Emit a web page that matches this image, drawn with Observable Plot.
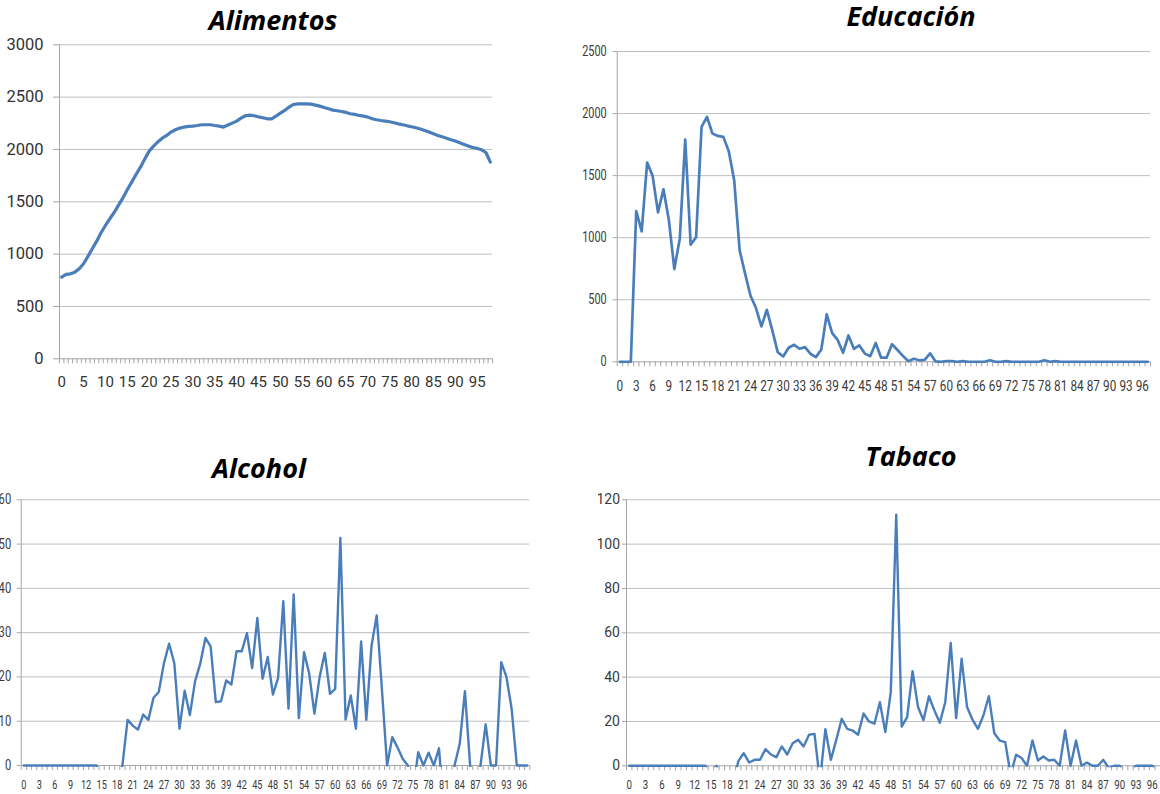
<!DOCTYPE html>
<html>
<head>
<meta charset="utf-8">
<script src="https://cdn.jsdelivr.net/npm/d3@7"></script>
<script src="https://cdn.jsdelivr.net/npm/@observablehq/plot@0.6"></script>
<style>
html, body { margin: 0; padding: 0; background: #fff; }
#page { position: relative; width: 1160px; height: 794px; overflow: hidden; background: #fff; }
.panel { position: absolute; overflow: hidden; }
.title { position: absolute; font-family: "Open Sans", Lato, sans-serif; font-weight: bold; font-style: italic;
         font-size: 27px; line-height: 27px; color: #000; white-space: nowrap; transform: translateX(-50%); }
</style>
</head>
<body>
<div id="page"></div>
<script>
// ---------- DATA ----------
const titles = ["Alimentos", "Educación", "Alcohol", "Tabaco"];

const alimentosAges = Array.from({length: 99}, (_, i) => i);   // 0..98
const edadesOtros = Array.from({length: 98}, (_, i) => i);     // 0..97

const alimentos = [780, 806, 812, 828, 860, 908, 978, 1051, 1124, 1204,
  1274, 1338, 1398, 1468, 1538, 1615, 1688, 1761, 1831, 1908,
  1984, 2032, 2073, 2108, 2134, 2166, 2188, 2204, 2214, 2220,
  2223, 2229, 2236, 2236, 2236, 2229, 2223, 2214, 2233, 2252,
  2271, 2300, 2322, 2328, 2322, 2312, 2303, 2293, 2293, 2319,
  2347, 2373, 2405, 2430, 2436, 2436, 2436, 2433, 2424, 2414,
  2401, 2389, 2376, 2370, 2363, 2354, 2341, 2335, 2325, 2319,
  2309, 2293, 2284, 2277, 2271, 2265, 2255, 2245, 2236, 2226,
  2217, 2207, 2195, 2182, 2166, 2150, 2134, 2121, 2108, 2093,
  2080, 2064, 2048, 2032, 2019, 2010, 1997, 1971, 1879];

const educacion = [0, 0, 0, 1215, 1051, 1605, 1500, 1204, 1390, 1140,
  747, 992, 1790, 943, 1003, 1892, 1973, 1839, 1820, 1812,
  1696, 1462, 898, 710, 532, 433, 285, 419, 253, 78,
  43, 113, 137, 105, 118, 65, 38, 97, 382, 231,
  177, 73, 212, 105, 132, 66, 45, 152, 33, 33,
  142, 95, 48, 5, 25, 12, 15, 68, 3, 0,
  5, 5, 0, 5, 0, 0, 0, 0, 13, 0,
  0, 5, 0, 0, 0, 0, 0, 0, 13, 0,
  5, 0, 0, 0, 0, 0, 0, 0, 0, 0,
  0, 0, 0, 0, 0, 0, 0, 0];

const alcohol = [0, 0, 0, 0, 0, 0, 0, 0, 0, 0,
  0, 0, 0, 0, 0, -3, -3, -3, -3, 0,
  10.3, 9.0, 8.1, 11.5, 10.3, 15.3, 16.6, 23.1, 27.5, 23.1,
  8.3, 16.9, 11.4, 19.0, 23.0, 28.8, 26.9, 14.3, 14.5, 19.2,
  18.3, 25.8, 25.8, 29.9, 22.0, 33.3, 19.6, 24.5, 16.0, 19.8,
  37.1, 12.8, 38.6, 10.7, 25.6, 20.7, 11.7, 20.0, 25.4, 16.2,
  17.3, 51.4, 10.4, 15.8, 8.3, 28.0, 10.3, 27.0, 33.9, 17.3,
  0, 6.4, 4.1, 1.5, 0, -6, 3.0, 0, 2.9, 0,
  3.9, -11, -5, 0, 4.9, 16.8, 0, -5, 0, 9.3,
  0, 0, 23.3, 20.0, 12.8, 0, 0, 0];

const tabaco = [0, 0, 0, 0, 0, 0, 0, 0, 0, 0,
  0, 0, 0, 0, 0, -4, 0, -4, -4, -10,
  2, 5.7, 1.5, 2.7, 2.7, 7.5, 5.1, 3.9, 8.7, 5.1,
  10.2, 11.7, 8.7, 14.0, 14.4, -7, 16.5, 2.7, 11.7, 21.2,
  16.7, 15.9, 14.0, 23.6, 20.0, 19.0, 28.7, 15.2, 33.2, 113.3,
  17.7, 22.0, 42.7, 26.5, 20.5, 31.4, 25.0, 19.4, 28.7, 55.4,
  21.5, 48.3, 26.5, 20.8, 16.7, 22.7, 31.4, 14.7, 11.4, 10.7,
  -4, 5.0, 3.5, 0, 11.4, 2.4, 4.2, 2.4, 2.7, 0,
  15.9, 0, 11.4, 0, 1.5, 0, 0, 2.7, -1, 0,
  0, -3, -3, 0, 0, 0, 0, -3];

const yTicksAlimentos = [0, 500, 1000, 1500, 2000, 2500, 3000];
const yTicksEducacion = [0, 500, 1000, 1500, 2000, 2500];
const yTicksAlcohol = [0, 10, 20, 30, 40, 50, 60];
const yTicksTabaco = [0, 20, 40, 60, 80, 100, 120];
const xLabels5 = [0, 5, 10, 15, 20, 25, 30, 35, 40, 45, 50, 55, 60, 65, 70, 75, 80, 85, 90, 95];
const xLabels3 = [0, 3, 6, 9, 12, 15, 18, 21, 24, 27, 30, 33, 36, 39, 42, 45, 48, 51, 54, 57,
  60, 63, 66, 69, 72, 75, 78, 81, 84, 87, 90, 93, 96];

// ---------- STYLE ----------
const BLUE = "#4a7ebb";
const GRID = "#c0c0c0";
const AXIS = "#a6a6a6";
const FONT = "Roboto, 'Open Sans', sans-serif";

const page = document.getElementById("page");

function squeeze(svg, label, sx) {
  if (sx === 1) return;
  svg.querySelectorAll(`g[aria-label="${label}"] text`).forEach(t => {
    const tr = t.getAttribute("transform") || "";
    const x = +t.getAttribute("x") || 0;
    t.setAttribute("transform", `${tr} translate(${x},0) scale(${sx},1) translate(${-x},0)`);
  });
}

function makePanel(c) {
  const N = c.ages.length;
  const data = c.ages.map((a, i) => ({age: a, value: c.values[i]}));
  const bounds = c.ages.map(a => a - 0.5).concat([c.ages[N - 1] + 0.5]);
  const yMax = c.yTicks[c.yTicks.length - 1];
  const svg = Plot.plot({
    width: c.width, height: c.height,
    marginLeft: c.mL, marginRight: c.mR, marginTop: c.mT, marginBottom: c.mB,
    insetBottom: 2,
    x: {type: "linear", domain: [c.ages[0] - 0.5, c.ages[N - 1] + 0.5], axis: null},
    y: {type: "linear", domain: [0, yMax], axis: null},
    style: {background: "#fff", color: c.textColor, overflow: "hidden"},
    marks: [
      Plot.ruleY(c.yTicks.filter(t => t > 0), {stroke: GRID, strokeWidth: 1}),
      Plot.axisY(c.yTicks, {anchor: "left", tickSize: c.yTickSize, tickPadding: c.yPad, stroke: AXIS,
        fontSize: c.yFont, fontFamily: FONT, label: null, tickFormat: d => String(d)}),
      Plot.ruleX([c.ages[0] - 0.5], {y1: 0, y2: yMax, stroke: AXIS}),
      Plot.axisX(bounds, {anchor: "bottom", tickSize: 5, dy: -2, stroke: AXIS, tickFormat: () => "", label: null}),
      Plot.ruleY([0], {stroke: AXIS}),
      Plot.axisX(c.xLabels, {anchor: "bottom", tickSize: 0, tickPadding: c.xPad, fontSize: c.xFont,
        fontFamily: FONT, label: null, tickFormat: d => String(d)}),
      Plot.line(data, {x: "age", y: "value", stroke: BLUE, strokeWidth: c.lw,
        strokeLinejoin: "round", strokeLinecap: "round", clip: true})
    ]
  });
  squeeze(svg, "y-axis tick label", c.ySx);
  squeeze(svg, "x-axis tick label", c.xSx);
  const div = document.createElement("div");
  div.className = "panel";
  div.style.left = c.left + "px";
  div.style.top = c.top + "px";
  div.style.width = c.width + "px";
  div.style.height = c.height + "px";
  div.appendChild(svg);
  page.appendChild(div);

  const t = document.createElement("div");
  t.className = "title";
  t.textContent = c.title;
  t.style.left = c.titleX + "px";
  t.style.top = (c.titleBaseline - 24) + "px";
  page.appendChild(t);
}

makePanel({title: titles[0], titleX: 273, titleBaseline: 30,
  ages: alimentosAges, values: alimentos, yTicks: yTicksAlimentos, xLabels: xLabels5,
  left: 0, top: 0, width: 520, height: 400, mL: 59, mR: 28, mT: 44.3, mB: 39.7,
  yTickSize: 6, yPad: 10, yFont: 16.5, ySx: 1, xFont: 15, xSx: 1, xPad: 15.4, lw: 3.2, textColor: "#333"});

makePanel({title: titles[1], titleX: 911, titleBaseline: 26,
  ages: edadesOtros, values: educacion, yTicks: yTicksEducacion, xLabels: xLabels3,
  left: 560, top: 0, width: 600, height: 400, mL: 56.7, mR: 10, mT: 51, mB: 36.7,
  yTickSize: 4, yPad: 6.5, yFont: 14, ySx: 0.78, xFont: 15.5, xSx: 0.76, xPad: 16.2, lw: 2.7, textColor: "#3a3a3a"});

makePanel({title: titles[2], titleX: 259, titleBaseline: 478,
  ages: edadesOtros, values: alcohol, yTicks: yTicksAlcohol, xLabels: xLabels3,
  left: 0, top: 440, width: 560, height: 354, mL: 20.7, mR: 30.7, mT: 59.3, mB: 27,
  yTickSize: 4, yPad: 6, yFont: 14, ySx: 0.8, xFont: 13.5, xSx: 0.68, xPad: 12, lw: 2.4, textColor: "#3a3a3a"});

makePanel({title: titles[3], titleX: 911, titleBaseline: 466,
  ages: edadesOtros, values: tabaco, yTicks: yTicksTabaco, xLabels: xLabels3,
  left: 598, top: 440, width: 562, height: 354, mL: 28, mR: 0, mT: 59.3, mB: 26.7,
  yTickSize: 4, yPad: 2.5, yFont: 14, ySx: 1, xFont: 13.5, xSx: 0.72, xPad: 11.7, lw: 2.4, textColor: "#3a3a3a"});
</script>
</body>
</html>
